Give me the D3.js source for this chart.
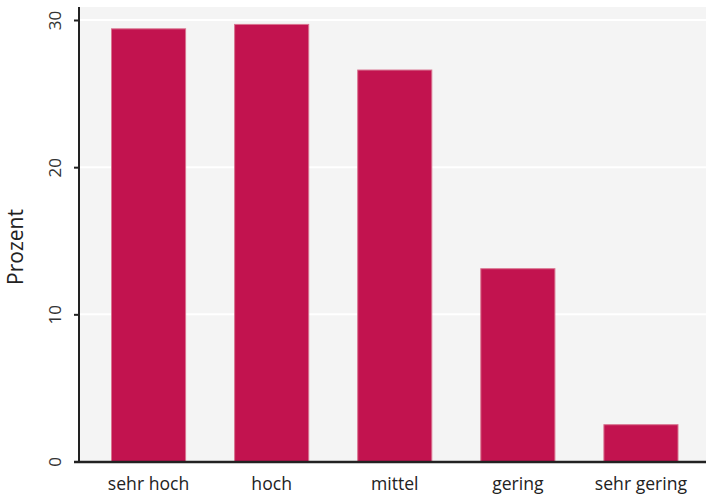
<!DOCTYPE html>
<html><head><meta charset="utf-8">
<script src="https://cdn.jsdelivr.net/npm/d3@7"></script>
<style>body{margin:0;background:#fff}svg{display:block}text{font-family:"Open Sans","Noto Sans",sans-serif}</style>
</head><body><svg id="c" width="706" height="500"></svg>
<script>
const categories = ["sehr hoch","hoch","mittel","gering","sehr gering"];
const values = [29.4, 29.7, 26.6, 13.1, 2.5];
const yTicks = [0,10,20,30];
const yLabel = "Prozent";

(function(){
const svg = d3.select("#c");
const pl = 79, pr = 706, pt = 7, pb = 462;
const x = d3.scaleBand().domain(categories).range([pl, 710.5]).paddingInner(0.39).paddingOuter(0.26);
const y = d3.scaleLinear().domain([0, 30]).range([461.5, 20]);

svg.append("rect").attr("x", pl).attr("y", pt).attr("width", pr-pl).attr("height", pb-pt).attr("fill", "#f4f4f4");
svg.selectAll(".grid").data(yTicks.filter(d=>d>0)).join("line")
  .attr("x1", pl).attr("x2", pr).attr("y1", d=>y(d)).attr("y2", d=>y(d))
  .attr("stroke", "#fff").attr("stroke-width", 2);

svg.selectAll(".bar").data(categories).join("rect")
  .attr("x", d=>x(d)+0.5).attr("width", x.bandwidth()-1)
  .attr("y", (d,i)=>y(values[i])).attr("height", (d,i)=>y(0)-y(values[i]))
  .attr("fill", "#c2134f").attr("stroke", "#d9738f").attr("stroke-width", 1);

const ya = svg.append("g").attr("transform", `translate(${pl},0)`)
  .call(d3.axisLeft(y).tickValues(yTicks).tickSize(5).tickSizeOuter(0));
ya.select(".domain").remove();
ya.selectAll(".tick line").attr("stroke", "#222").attr("stroke-width", 2);
ya.selectAll(".tick text").attr("font-size", 17).attr("fill", "#333")
  .attr("text-anchor", "middle").attr("x", 0).attr("y", 0).attr("dy", 0)
  .attr("transform", "translate(-18,0) rotate(-90)");
svg.append("line").attr("x1", pl).attr("x2", pl).attr("y1", pt).attr("y2", pb+1).attr("stroke", "#222").attr("stroke-width", 2);

const xa = svg.append("g").attr("transform", `translate(0,${pb})`)
  .call(d3.axisBottom(x).tickSize(0).tickSizeOuter(0));
xa.select(".domain").remove();
xa.selectAll(".tick text").attr("font-size", 17.6).attr("fill", "#222").attr("y", 28).attr("dy", 0);
svg.append("line").attr("x1", 74).attr("x2", pr).attr("y1", pb).attr("y2", pb).attr("stroke", "#222").attr("stroke-width", 2.5);

svg.append("text").attr("transform", "translate(22.5,247) rotate(-90)").attr("text-anchor", "middle")
  .attr("font-size", 21).attr("fill", "#222").text(yLabel);
})();
</script></body></html>
